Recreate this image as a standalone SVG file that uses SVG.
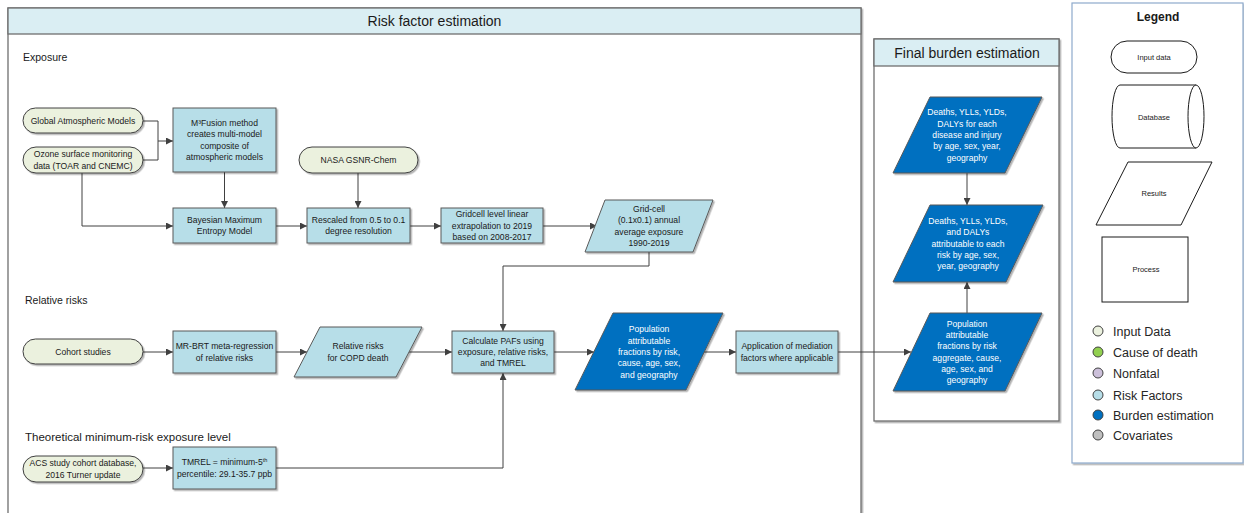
<svg xmlns="http://www.w3.org/2000/svg" width="1244" height="513" viewBox="0 0 1244 513">
<style>
text{font-family:"Liberation Sans",Arial,sans-serif;}
.t{font-size:8.6px;fill:#1a1a1a;text-anchor:middle;}
.tw{font-size:8.6px;fill:#ffffff;text-anchor:middle;}
.in{fill:#ebf1de;stroke:#404040;stroke-width:1;}
.rf{fill:#b7dee8;stroke:#595959;stroke-width:1;}
.bd{fill:#0070c0;stroke:#595959;stroke-width:1;}
.cont{fill:#ffffff;stroke:#6f6f6f;stroke-width:1.3;}
.hdr{fill:#daeef3;stroke:#6f6f6f;stroke-width:1.3;}
.lbl{font-size:10.5px;fill:#1a1a1a;}
.ttl{font-size:14px;fill:#1a1a1a;text-anchor:middle;}
.ln{fill:none;stroke:#404040;stroke-width:1;}
.lg{fill:#ffffff;stroke:#1a1a1a;stroke-width:1;}
.lgt{font-size:7.5px;fill:#1a1a1a;text-anchor:middle;}
.lgi{font-size:12.5px;fill:#262626;}
.dot{stroke:#404040;stroke-width:1;}
</style>
<defs>
<filter id="sh" x="-10%" y="-10%" width="130%" height="130%">
<feDropShadow dx="1.5" dy="1.5" stdDeviation="0.7" flood-color="#000" flood-opacity="0.3"/>
</filter>
<marker id="ah" viewBox="0 0 10 10" refX="10" refY="5" markerWidth="8" markerHeight="7" markerUnits="userSpaceOnUse" orient="auto">
<path d="M0,0 L10,5 L0,10 Z" fill="#404040"/>
</marker>
</defs>

<g id="container-risk">
<rect class="cont" x="8" y="8" width="853" height="515" filter="url(#sh)"/>
<rect class="hdr" x="8" y="8" width="853" height="26"/>
<text class="ttl" x="434.5" y="26">Risk factor estimation</text>
<text class="lbl" x="23" y="61">Exposure</text>
<text class="lbl" x="25" y="304">Relative risks</text>
<text class="lbl" x="25" y="441" style="font-size:11.5px">Theoretical minimum-risk exposure level</text>
</g>

<g id="container-final">
<rect class="cont" x="874" y="39" width="185" height="382" filter="url(#sh)"/>
<rect class="hdr" x="874" y="39" width="185" height="27"/>
<text class="ttl" x="967" y="58">Final burden estimation</text>
</g>

<g id="connectors">
<path class="ln" d="M143,121 H158 V141 H173" marker-end="url(#ah)"/>
<path class="ln" d="M143,160 H158 V141"/>
<path class="ln" d="M82,173 V226 H173" marker-end="url(#ah)"/>
<path class="ln" d="M224.5,172 V208" marker-end="url(#ah)"/>
<path class="ln" d="M276,226 H307" marker-end="url(#ah)"/>
<path class="ln" d="M358,173 V208" marker-end="url(#ah)"/>
<path class="ln" d="M410,226 H441" marker-end="url(#ah)"/>
<path class="ln" d="M543,226 H597" marker-end="url(#ah)"/>
<path class="ln" d="M649,252 V266 H503 V331" marker-end="url(#ah)"/>
<path class="ln" d="M143,352 H173" marker-end="url(#ah)"/>
<path class="ln" d="M276,352 H307" marker-end="url(#ah)"/>
<path class="ln" d="M409,352 H452" marker-end="url(#ah)"/>
<path class="ln" d="M143,468 H173" marker-end="url(#ah)"/>
<path class="ln" d="M276,468 H503 V373" marker-end="url(#ah)"/>
<path class="ln" d="M554,352 H594" marker-end="url(#ah)"/>
<path class="ln" d="M704,352 H736" marker-end="url(#ah)"/>
<path class="ln" d="M838,352 H911" marker-end="url(#ah)"/>
<path class="ln" d="M967,173 V205" marker-end="url(#ah)"/>
<path class="ln" d="M967,313 V282" marker-end="url(#ah)"/>
</g>

<g id="in-global">
<rect class="in" x="23" y="108" width="120" height="25" rx="12.5" filter="url(#sh)"/>
<text class="t" x="83" y="124">Global Atmospheric Models</text>
</g>
<g id="in-ozone">
<rect class="in" x="23" y="147" width="120" height="26" rx="13" filter="url(#sh)"/>
<text class="t" x="83" y="157.4">Ozone surface monitoring</text>
<text class="t" x="83" y="168.7">data (TOAR and CNEMC)</text>
</g>
<g id="p-m3fusion">
<rect class="rf" x="173" y="108" width="103" height="64" filter="url(#sh)"/>
<text class="t" x="224.5" y="126">M³Fusion method</text>
<text class="t" x="224.5" y="137.3">creates multi-model</text>
<text class="t" x="224.5" y="148.6">composite of</text>
<text class="t" x="224.5" y="160">atmospheric models</text>
</g>
<g id="p-bme">
<rect class="rf" x="173" y="208" width="103" height="35" filter="url(#sh)"/>
<text class="t" x="224.5" y="223">Bayesian Maximum</text>
<text class="t" x="224.5" y="234.3">Entropy Model</text>
</g>
<g id="in-nasa">
<rect class="in" x="299" y="147" width="119" height="26" rx="13" filter="url(#sh)"/>
<text class="t" x="358.5" y="163">NASA GSNR-Chem</text>
</g>
<g id="p-rescale">
<rect class="rf" x="307" y="208" width="103" height="35" filter="url(#sh)"/>
<text class="t" x="358.5" y="223">Rescaled from 0.5 to 0.1</text>
<text class="t" x="358.5" y="234.3">degree resolution</text>
</g>
<g id="p-gridcell">
<rect class="rf" x="441" y="208" width="102" height="35" filter="url(#sh)"/>
<text class="t" x="492" y="217.4">Gridcell level linear</text>
<text class="t" x="492" y="228.7">extrapolation to 2019</text>
<text class="t" x="492" y="240">based on 2008-2017</text>
</g>
<g id="r-gridcell">
<polygon class="rf" points="605,200 713,200 693,252 585,252" filter="url(#sh)"/>
<text class="t" x="649" y="212">Grid-cell</text>
<text class="t" x="649" y="223.3">(0.1x0.1) annual</text>
<text class="t" x="649" y="234.7">average exposure</text>
<text class="t" x="649" y="246">1990-2019</text>
</g>
<g id="in-cohort">
<rect class="in" x="23" y="339" width="120" height="25" rx="12.5" filter="url(#sh)"/>
<text class="t" x="83" y="355">Cohort studies</text>
</g>
<g id="p-mrbrt">
<rect class="rf" x="173" y="331" width="103" height="42" filter="url(#sh)"/>
<text class="t" x="224.5" y="349.4">MR-BRT meta-regression</text>
<text class="t" x="224.5" y="360.7">of relative risks</text>
</g>
<g id="r-rr">
<polygon class="rf" points="320,327 422,327 396,377 294,377" filter="url(#sh)"/>
<text class="t" x="358" y="349.4">Relative risks</text>
<text class="t" x="358" y="360.7">for COPD death</text>
</g>
<g id="in-acs">
<rect class="in" x="23" y="456" width="120" height="26" rx="13" filter="url(#sh)"/>
<text class="t" x="83" y="466.4">ACS study cohort database,</text>
<text class="t" x="83" y="477.7">2016 Turner update</text>
</g>
<g id="p-tmrel">
<rect class="rf" x="173" y="447" width="103" height="42" filter="url(#sh)"/>
<text class="t" x="224.5" y="465.4">TMREL = minimum-5<tspan dy="-3.5" style="font-size:5.5px">th</tspan></text>
<text class="t" x="224.5" y="476.7">percentile: 29.1-35.7 ppb</text>
</g>
<g id="p-calc">
<rect class="rf" x="452" y="331" width="102" height="42" filter="url(#sh)"/>
<text class="t" x="503" y="343.7">Calculate PAFs using</text>
<text class="t" x="503" y="355">exposure, relative risks,</text>
<text class="t" x="503" y="366.3">and TMREL</text>
</g>
<g id="b-paf">
<polygon class="bd" points="613,313 723,313 686,390 575,390" filter="url(#sh)"/>
<text class="tw" x="649" y="332.4">Population</text>
<text class="tw" x="649" y="343.7">attributable</text>
<text class="tw" x="649" y="355">fractions by risk,</text>
<text class="tw" x="649" y="366.3">cause, age, sex,</text>
<text class="tw" x="649" y="377.6">and geography</text>
</g>
<g id="p-mediation">
<rect class="rf" x="736" y="331" width="102" height="42" filter="url(#sh)"/>
<text class="t" x="787" y="349.4">Application of mediation</text>
<text class="t" x="787" y="360.7">factors where applicable</text>
</g>
<g id="b-deaths">
<polygon class="bd" points="930,97 1042,97 1005,173 893,173" filter="url(#sh)"/>
<text class="tw" x="967" y="115.4">Deaths, YLLs, YLDs,</text>
<text class="tw" x="967" y="126.7">DALYs for each</text>
<text class="tw" x="967" y="138">disease and injury</text>
<text class="tw" x="967" y="149.3">by age, sex, year,</text>
<text class="tw" x="967" y="160.6">geography</text>
</g>
<g id="b-attrib">
<polygon class="bd" points="930,205 1043,205 1006,282 893,282" filter="url(#sh)"/>
<text class="tw" x="968" y="223.9">Deaths, YLLs, YLDs,</text>
<text class="tw" x="968" y="235.2">and DALYs</text>
<text class="tw" x="968" y="246.5">attributable to each</text>
<text class="tw" x="968" y="257.8">risk by age, sex,</text>
<text class="tw" x="968" y="269.1">year, geography</text>
</g>
<g id="b-paf2">
<polygon class="bd" points="930,313 1042,313 1005,391 893,391" filter="url(#sh)"/>
<text class="tw" x="967" y="326.8">Population</text>
<text class="tw" x="967" y="338.1">attributable</text>
<text class="tw" x="967" y="349.4">fractions by risk</text>
<text class="tw" x="967" y="360.7">aggregate, cause,</text>
<text class="tw" x="967" y="372">age, sex, and</text>
<text class="tw" x="967" y="383.3">geography</text>
</g>

<g id="legend">
<rect x="1072" y="3" width="171" height="460" fill="#ffffff" stroke="#8eaacc" stroke-width="1.2" filter="url(#sh)"/>
<text x="1158" y="21" style="font-size:12px;font-weight:bold;fill:#1a1a1a;text-anchor:middle">Legend</text>
<rect class="lg" x="1111" y="41" width="86" height="32" rx="16"/>
<text class="lgt" x="1154" y="60">Input data</text>
<path class="lg" d="M1120,85 H1196 A8,31.5 0 0 1 1196,148 H1120 A8,31.5 0 0 1 1120,85 Z"/>
<path class="lg" d="M1196,85 A8,31.5 0 0 0 1196,148" fill="none"/>
<text class="lgt" x="1154" y="120">Database</text>
<polygon class="lg" points="1128,162 1212,162 1181,225 1096,225"/>
<text class="lgt" x="1154" y="196">Results</text>
<rect class="lg" x="1102" y="237" width="86" height="65"/>
<text class="lgt" x="1146" y="272">Process</text>
<circle class="dot" cx="1098" cy="331" r="5" fill="#ebf1de"/>
<text class="lgi" x="1113" y="335.5">Input Data</text>
<circle class="dot" cx="1098" cy="352" r="5" fill="#92d050"/>
<text class="lgi" x="1113" y="356.5">Cause of death</text>
<circle class="dot" cx="1098" cy="373" r="5" fill="#ccc0da"/>
<text class="lgi" x="1113" y="377.5">Nonfatal</text>
<circle class="dot" cx="1098" cy="395" r="5" fill="#b7dee8"/>
<text class="lgi" x="1113" y="399.5">Risk Factors</text>
<circle class="dot" cx="1098" cy="415" r="5" fill="#0070c0"/>
<text class="lgi" x="1113" y="419.5">Burden estimation</text>
<circle class="dot" cx="1098" cy="435" r="5" fill="#bfbfbf"/>
<text class="lgi" x="1113" y="439.5">Covariates</text>
</g>
</svg>
